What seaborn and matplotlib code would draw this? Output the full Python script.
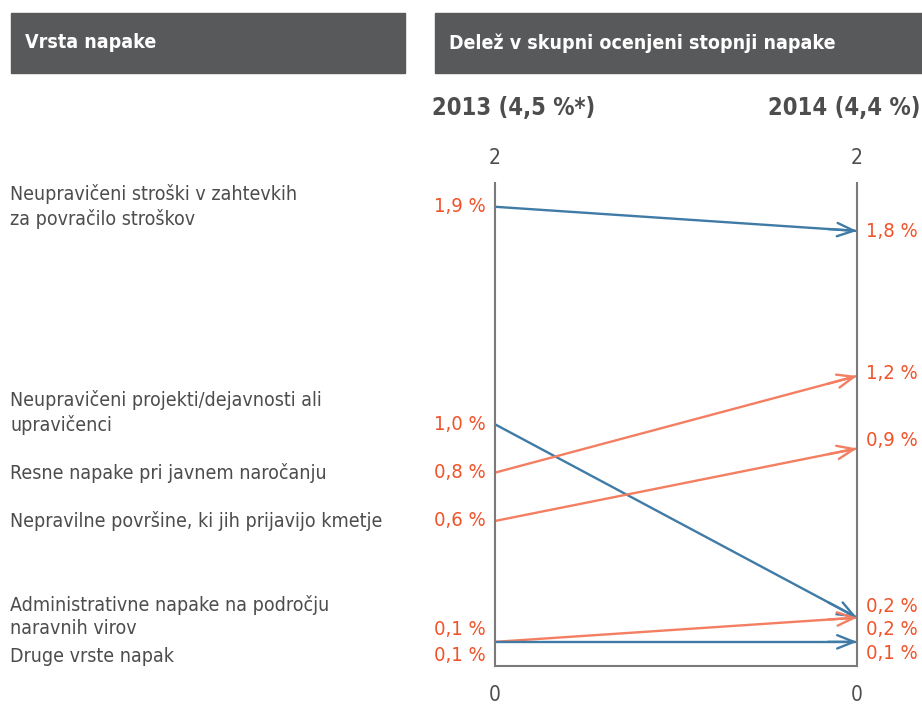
import matplotlib.pyplot as plt
import matplotlib.transforms as mtransforms
import pandas as pd
import seaborn as sns
from matplotlib.patches import Rectangle


categories = [
    "Neupravičeni stroški v zahtevkih\nza povračilo stroškov",
    "Neupravičeni projekti/dejavnosti ali\nupravičenci",
    "Resne napake pri javnem naročanju",
    "Nepravilne površine, ki jih prijavijo kmetje",
    "Administrativne napake na področju\nnaravnih virov",
    "Druge vrste napak",
]
share_2013 = [1.9, 1.0, 0.8, 0.6, 0.1, 0.1]
share_2014 = [1.8, 0.2, 1.2, 0.9, 0.2, 0.1]
year_labels = ["2013 (4,5 %*)", "2014 (4,4 %)"]
header_labels = ["Vrsta napake", "Delež v skupni ocenjeni stopnji napake"]

# layout only: where the texts sit (data units), to avoid overlaps
cat_text_y = [1.90, 1.05, 0.80, 0.60, 0.205, 0.041]
left_text_y = [1.90, 1.00, 0.80, 0.60, 0.149, 0.045]
right_text_y = [1.796, 0.248, 1.212, 0.931, 0.149, 0.05]

BLUE = "#3f7ba6"
ORANGE = "#f47e62"
RED_TXT = "#f0532a"
GREY_BOX = "#58595b"
GREY_TXT = "#4d4d4f"

sns.set_theme(style="white")
plt.rcParams["font.family"] = ["DejaVu Sans"]
plt.rcParams["font.stretch"] = "condensed"

df = pd.DataFrame({
    "category": categories * 2,
    "year": [0] * len(categories) + [1] * len(categories),
    "share": share_2013 + share_2014,
})
colours = {c: (ORANGE if b > a else BLUE) for c, a, b in zip(categories, share_2013, share_2014)}

fig = plt.figure(figsize=(9.22, 7.04), dpi=100)
ax = fig.add_axes([495 / 922, 1 - 666 / 704, (857 - 495) / 922, (666 - 182.6) / 704])

sns.lineplot(data=df, x="year", y="share", hue="category", palette=colours,
             legend=False, linewidth=1.7, ax=ax)
for c, a, b in zip(categories, share_2013, share_2014):
    ax.annotate("", xy=(1, b), xytext=(0.92, a + 0.92 * (b - a)),
                arrowprops=dict(arrowstyle="->,head_length=1.0,head_width=0.4",
                                color=colours[c], lw=1.7, shrinkA=0, shrinkB=0))

ax.set_xlim(0, 1)
ax.set_ylim(0, 2)
ax.set_xticks([])
ax.set_yticks([])
ax.set_xlabel("")
ax.set_ylabel("")
for side in ["left", "right", "bottom"]:
    ax.spines[side].set_visible(True)
    ax.spines[side].set_color("#7a7a7a")
    ax.spines[side].set_linewidth(1.5)
ax.spines["top"].set_visible(False)

# axis end labels
for x in [0, 1]:
    ax.text(x, 2.06, "2", ha="center", va="bottom", fontsize=15, color=GREY_TXT)
    ax.text(x, -0.08, "0", ha="center", va="top", fontsize=15, color=GREY_TXT)

# value labels
for a, y in zip(share_2013, left_text_y):
    ax.text(-0.025, y, f"{a:.1f} %".replace(".", ","), ha="right", va="center",
            fontsize=14.5, color=RED_TXT, clip_on=False)
for b, y in zip(share_2014, right_text_y):
    ax.text(1.025, y, f"{b:.1f} %".replace(".", ","), ha="left", va="center",
            fontsize=14.5, color=RED_TXT, clip_on=False)

# category labels at left
blend = mtransforms.blended_transform_factory(fig.transFigure, ax.transData)
for c, y in zip(categories, cat_text_y):
    ax.text(10 / 922, y, c, transform=blend, ha="left", va="center",
            fontsize=14, color=GREY_TXT, linespacing=1.3, clip_on=False)

# year labels
fig.text(432 / 922, 1 - 108 / 704, year_labels[0], ha="left", va="center",
         fontsize=17, fontweight="bold", color=GREY_TXT)
fig.text(920 / 922, 1 - 108 / 704, year_labels[1], ha="right", va="center",
         fontsize=17, fontweight="bold", color=GREY_TXT)

# header boxes
for x0, x1, label in [(11, 405, header_labels[0]), (435, 922, header_labels[1])]:
    fig.patches.append(Rectangle((x0 / 922, 1 - 73 / 704), (x1 - x0) / 922, 60 / 704,
                                 transform=fig.transFigure, color=GREY_BOX, zorder=0))
    fig.text((x0 + 14) / 922, 1 - 43 / 704, label, ha="left", va="center",
             fontsize=14, fontweight="bold", color="white")

fig.savefig("out.png", dpi=100)
plt.close(fig)
